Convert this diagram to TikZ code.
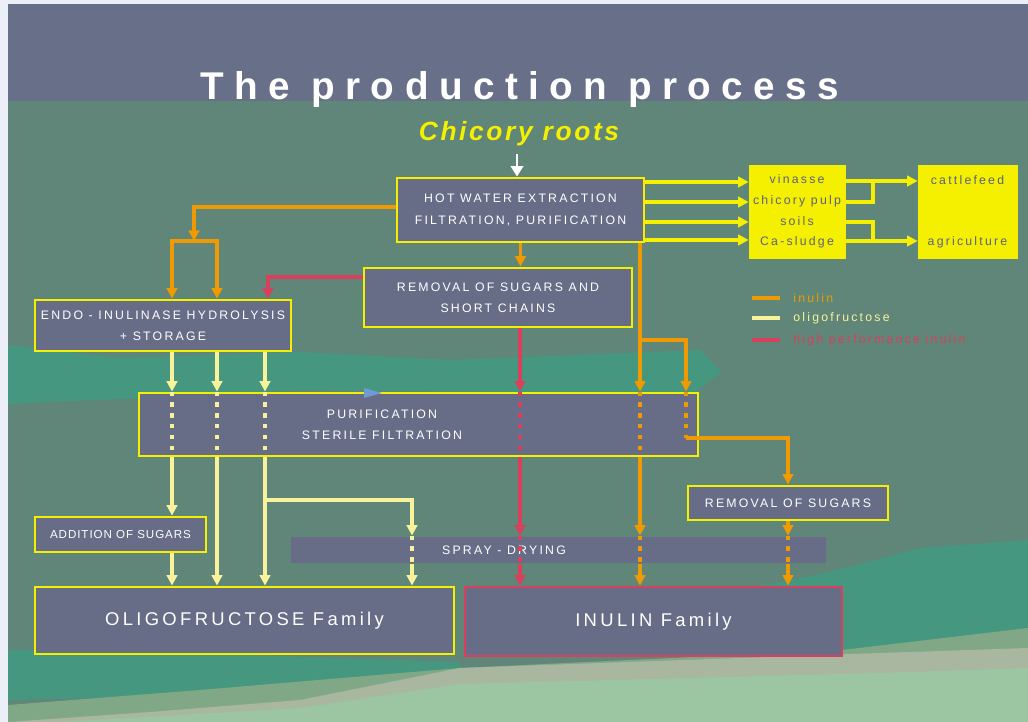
\documentclass[tikz,border=0pt]{standalone}
\usepackage{fontspec}
\setmainfont{Liberation Sans}
\newfontfamily\boxfont[LetterSpace=18]{Liberation Sans}
\newfontfamily\schmalfont[LetterSpace=8]{Liberation Sans}
\newfontfamily\titlefont[LetterSpace=27]{Liberation Sans}
\newfontfamily\wurzelfont[LetterSpace=10]{Liberation Sans}
\usetikzlibrary{arrows.meta}

\definecolor{rand}{HTML}{ECEFF8}
\definecolor{panelblau}{HTML}{686F89}
\definecolor{grund}{HTML}{5F8679}
\definecolor{tuerkis}{HTML}{46977F}
\definecolor{hellgruen}{HTML}{80A887}
\definecolor{beige}{HTML}{A9B7A0}
\definecolor{blassgruen}{HTML}{9CC5A1}
\definecolor{kasten}{HTML}{676D87}
\definecolor{gelb}{HTML}{F5EF00}
\definecolor{schrift}{HTML}{5A6184}
\definecolor{inulinfarbe}{HTML}{EE9A00}
\definecolor{oligofarbe}{HTML}{F8F39A}
\definecolor{hpifarbe}{HTML}{D8405E}
\definecolor{pfeilblau}{HTML}{6F9AD2}

\tikzset{
  kasten/.style={draw=gelb, fill=kasten, line width=1.6pt, inner sep=0pt,
    text=white, align=center, font=\boxfont\fontsize{7}{12}\selectfont},
  seite/.style={draw=gelb, fill=gelb, inner sep=0pt, text=schrift,
    align=center, font=\boxfont\fontsize{7}{11.8}\selectfont},
  familie/.style={kasten, font=\boxfont\fontsize{10.5}{12}\selectfont},
  spitze/.style={-{Triangle[length=6pt,width=6pt]}},
  inul/.style={draw=inulinfarbe, line width=2pt, spitze},
  oligo/.style={draw=oligofarbe, line width=2pt, spitze},
  hpi/.style={draw=hpifarbe, line width=2pt, spitze},
  seitenfluss/.style={draw=gelb, line width=2pt},
  punkte/.style={line width=2pt, dash pattern=on 2.4pt off 3.8pt},
  legende/.style={anchor=west, inner sep=0pt, font=\boxfont\fontsize{7}{8}\selectfont}
}

\begin{document}
\begin{tikzpicture}[x=0.02cm, y=-0.02cm]
  \useasboundingbox (0,0) rectangle (1028,722);

  % Hintergrund
  \fill[rand] (0,0) rectangle (1028,722);
  \fill[grund] (8,4) rectangle (1028,722);
  \fill[panelblau] (8,4) rectangle (1028,101);
  \fill[tuerkis] (8,345) -- (120,358) -- (300,352) -- (450,360) -- (600,354)
    -- (700,350) -- (722,372) -- (690,396) -- (500,392) -- (300,390)
    -- (140,398) -- (8,404) -- cycle;
  \fill[tuerkis] (700,598) -- (830,572) -- (920,548) -- (1028,540)
    -- (1028,650) -- (840,660) -- cycle;
  \fill[tuerkis] (8,650) -- (250,655) -- (460,662) -- (460,690) -- (8,700) -- cycle;
  \fill[hellgruen] (8,722) -- (8,705) -- (200,690) -- (460,668) -- (842,650)
    -- (1028,628) -- (1028,722) -- cycle;
  \fill[beige] (8,722) -- (150,712) -- (300,700) -- (460,668) -- (880,653)
    -- (1028,648) -- (1028,722) -- cycle;
  \fill[blassgruen] (60,722) -- (300,708) -- (460,684) -- (880,673)
    -- (1028,668) -- (1028,722) -- cycle;

  % Titel
  \node[anchor=base, inner sep=0pt, text=white,
    font=\titlefont\fontsize{22}{24}\selectfont\bfseries] (titel) at (520,100)
    {The production process};
  \node[anchor=base, inner sep=0pt, text=gelb,
    font=\wurzelfont\fontsize{15}{18}\selectfont\bfseries\itshape] (wurzeln) at (519,141)
    {Chicory roots};

  % Kaesten
  \node[kasten, minimum width=4.94cm, minimum height=1.28cm] (heiss) at (520.5,210)
    {HOT WATER EXTRACTION\\FILTRATION, PURIFICATION};
  \node[seite, minimum width=1.92cm, minimum height=1.86cm] (neben) at (797,211.5)
    {vinasse\\chicory pulp\\soils\\Ca-sludge};
  \node[seite, minimum width=1.98cm, minimum height=1.86cm] (nutzung) at (967.5,212)
    {cattlefeed\\[23pt]agriculture};
  \node[kasten, minimum width=5.36cm, minimum height=1.18cm] (ketten) at (498,297.5)
    {REMOVAL OF SUGARS AND\\SHORT CHAINS};
  \node[kasten, minimum width=5.12cm, minimum height=1.02cm] (endo) at (163,325.5)
    {ENDO - INULINASE HYDROLYSIS\\+ STORAGE};
  \node[kasten, minimum width=11.18cm, minimum height=1.26cm] (reinig) at (418.5,424.5) {};
  \node[text=white, align=center, inner sep=0pt,
    font=\boxfont\fontsize{7}{12}\selectfont] (reiniglbl) at (382,424.5)
    {PURIFICATION\\STERILE FILTRATION};
  \node[kasten, minimum width=3.42cm, minimum height=0.7cm,
    font=\schmalfont\fontsize{6.6}{8}\selectfont] (zusatz) at (120.5,534.5)
    {ADDITION OF SUGARS};
  \node[kasten, minimum width=4.0cm, minimum height=0.68cm] (zucker) at (788,503)
    {REMOVAL OF SUGARS};
  \node[kasten, draw=none, minimum width=10.7cm, minimum height=0.52cm] (spray) at (558.5,550) {};
  \node[text=white, inner sep=0pt, font=\boxfont\fontsize{7}{12}\selectfont]
    (spraylbl) at (504,550) {SPRAY - DRYING};
  \node[familie, minimum width=8.38cm, minimum height=1.34cm] (oligofam) at (244.5,620.5)
    {OLIGOFRUCTOSE Family};
  \node[familie, draw=hpifarbe, minimum width=7.54cm, minimum height=1.38cm] (inulinfam) at (653.5,621.5)
    {INULIN Family};

  % Legende
  \draw[inulinfarbe, line width=2.4pt] (752,298) -- (780,298);
  \draw[oligofarbe, line width=2.4pt] (752,318) -- (780,318);
  \draw[hpifarbe, line width=2.4pt] (752,340) -- (780,340);
  \node[legende, text=inulinfarbe] (leg1) at (793,298) {inulin};
  \node[legende, text=oligofarbe] (leg2) at (793,318) {oligofructose};
  \node[legende, text=hpifarbe] (leg3) at (793,340) {high performance inulin};

  % Zulauf
  \draw[white, line width=1.5pt, -{Triangle[length=6pt,width=7pt]}, shorten <=4pt]
    (wurzeln.south -| 517,0) -- (heiss.north -| 517,0);

  % Nebenprodukte
  \foreach \y in {182,202,222,240}
    \draw[seitenfluss, spitze] (heiss.east |- 0,\y) -- (neben.west |- 0,\y);
  \coordinate (joben) at (873,181);
  \coordinate (junten) at (873,241);
  \draw[seitenfluss, spitze] (neben.east |- joben) -- (nutzung.west |- joben);
  \draw[seitenfluss] (neben.east |- 0,202) -| (joben);
  \draw[seitenfluss] (neben.east |- 0,222) -| (junten);
  \draw[seitenfluss, spitze] (neben.east |- junten) -- (nutzung.west |- junten);

  % Inulin (orange)
  \coordinate (teil) at (194,241);
  \draw[inul] (heiss.west |- 0,207) -| (teil);
  \draw[inul] (teil) -| (endo.north -| 172,0);
  \draw[inul] (teil) -| (endo.north -| 217,0);
  \draw[inul] (heiss.south) -- (heiss.south |- ketten.north);
  \draw[inul] (heiss.south -| 640,0) -- (reinig.north -| 640,0);
  \draw[inulinfarbe, punkte] (reinig.north -| 640,0) -- (reinig.south -| 640,0);
  \draw[inul] (reinig.south -| 640,0) -- (spray.north -| 640,0);
  \draw[inulinfarbe, punkte] (spray.north -| 640,0) -- (spray.south -| 640,0);
  \draw[inul] (spray.south -| 640,0) -- (inulinfam.north -| 640,0);
  \coordinate (gabel) at (640,340);
  \coordinate (knick) at (686,438);
  \draw[inul] (gabel) -| (reinig.north -| 686,0);
  \draw[inulinfarbe, punkte] (reinig.north -| 686,0) -- (knick);
  \draw[inul] (knick) -| (zucker.north);
  \draw[inul] (zucker.south) -- (spray.north -| zucker.south);
  \draw[inulinfarbe, punkte] (spray.north -| zucker.south) -- (spray.south -| zucker.south);
  \draw[inul] (spray.south -| zucker.south) -- (inulinfam.north -| zucker.south);

  % High performance inulin (rot)
  \draw[hpi] (ketten.west |- 0,277) -| (endo.north -| 268,0);
  \draw[hpi] (ketten.south -| 520,0) -- (reinig.north -| 520,0);
  \draw[hpifarbe, punkte] (reinig.north -| 520,0) -- (reinig.south -| 520,0);
  \draw[hpi] (reinig.south -| 520,0) -- (spray.north -| 520,0);
  \draw[hpifarbe, punkte] (spray.north -| 520,0) -- (spray.south -| 520,0);
  \draw[hpi] (spray.south -| 520,0) -- (inulinfam.north -| 520,0);

  % Oligofructose (hellgelb)
  \foreach \x in {172,217,265} {
    \draw[oligo] (endo.south -| \x,0) -- (reinig.north -| \x,0);
    \draw[oligofarbe, punkte] (reinig.north -| \x,0) -- (reinig.south -| \x,0);
  }
  \draw[oligo] (reinig.south -| 172,0) -- (zusatz.north -| 172,0);
  \draw[oligo] (zusatz.south -| 172,0) -- (oligofam.north -| 172,0);
  \draw[oligo] (reinig.south -| 217,0) -- (oligofam.north -| 217,0);
  \draw[oligo] (reinig.south -| 265,0) -- (oligofam.north -| 265,0);
  \coordinate (abzweig) at (265,500);
  \draw[oligo] (abzweig) -| (spray.north -| 412,0);
  \draw[oligofarbe, punkte] (spray.north -| 412,0) -- (spray.south -| 412,0);
  \draw[oligo] (spray.south -| 412,0) -- (oligofam.north -| 412,0);

  % kleiner blauer Pfeil
  \fill[pfeilblau] (364,388) -- (382,393) -- (364,398) -- cycle;
\end{tikzpicture}
\end{document}
